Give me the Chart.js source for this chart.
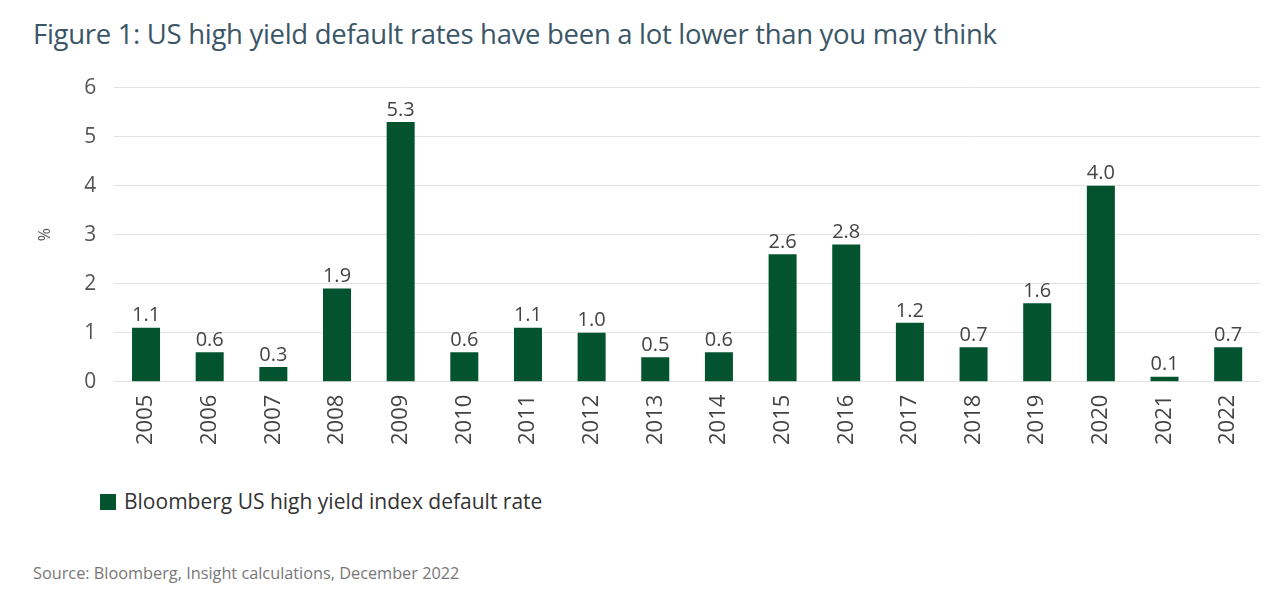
<!DOCTYPE html>
<html>
<head>
<meta charset="utf-8">
<script src="https://cdn.jsdelivr.net/npm/chart.js@4.4.0/dist/chart.umd.min.js"></script>
<style>
  body { margin: 0; background: #fff; font-family: "Open Sans", sans-serif; }
  #title { position: absolute; left: 33px; top: 15px; font-size: 27.5px; color: #3b5667; white-space: nowrap; letter-spacing: -0.3px; }
  #wrap { position: absolute; left: 0; top: 57px; width: 1282px; height: 393px; }
  #legend { position: absolute; left: 100px; top: 487px; font-size: 21px; color: #333; white-space: nowrap; }
  #legend span.box { display: inline-block; width: 16px; height: 16px; background: #03532f; vertical-align: -1px; margin-right: 8px; }
  #source { position: absolute; left: 33px; top: 562px; font-size: 16.3px; color: #777; white-space: nowrap; }
</style>
</head>
<body>
<div id="title">Figure 1: US high yield default rates have been a lot lower than you may think</div>
<div id="wrap"><canvas id="chart"></canvas></div>
<div id="legend"><span class="box"></span>Bloomberg US high yield index default rate</div>
<div id="source">Source: Bloomberg, Insight calculations, December 2022</div>
<script>
// chart data
const years = ["2005", "2006", "2007", "2008", "2009", "2010", "2011", "2012", "2013",
  "2014", "2015", "2016", "2017", "2018", "2019", "2020", "2021", "2022"];
const defaultRates = [1.1, 0.6, 0.3, 1.9, 5.3, 0.6, 1.1, 1.0, 0.5,
  0.6, 2.6, 2.8, 1.2, 0.7, 1.6, 4.0, 0.1, 0.7];
const yTicks = [0, 1, 2, 3, 4, 5, 6];

// draws the value above each bar
const valueLabels = {
  id: "valueLabels",
  afterDatasetsDraw(chart) {
    const ctx = chart.ctx;
    const meta = chart.getDatasetMeta(0);
    ctx.save();
    ctx.font = "20px 'Open Sans', sans-serif";
    ctx.fillStyle = "#444";
    ctx.textAlign = "center";
    ctx.textBaseline = "bottom";
    meta.data.forEach((bar, i) => {
      ctx.fillText(defaultRates[i].toFixed(1), bar.x, bar.y - 2);
    });
    ctx.restore();
  }
};

const ctx = document.getElementById("chart").getContext("2d");
new Chart(ctx, {
  type: "bar",
  data: {
    labels: years,
    datasets: [{
      label: "Bloomberg US high yield index default rate",
      data: defaultRates,
      backgroundColor: "#03532f",
      barPercentage: 0.88,
      categoryPercentage: 0.5
    }]
  },
  options: {
    responsive: true,
    maintainAspectRatio: false,
    animation: false,
    layout: { padding: { left: 36, right: 22, top: 2, bottom: 0 } },
    plugins: {
      legend: { display: false },
      tooltip: { enabled: false }
    },
    scales: {
      x: {
        grid: { display: false },
        border: { display: false },
        ticks: {
          color: "#444",
          font: { family: "'Open Sans', sans-serif", size: 22 },
          maxRotation: 90,
          minRotation: 90,
          padding: 5
        }
      },
      y: {
        min: 0,
        max: 6,
        afterBuildTicks(axis) {
          axis.ticks = yTicks.map(v => ({ value: v }));
        },
        grid: { color: "#e2e2e2", drawTicks: false },
        border: { display: false },
        ticks: {
          color: "#555",
          font: { family: "'Open Sans', sans-serif", size: 21 },
          padding: 18
        },
        title: {
          display: true,
          text: "%",
          color: "#555",
          font: { family: "'Open Sans', sans-serif", size: 16 },
          padding: { top: 0, bottom: 11 }
        }
      }
    }
  },
  plugins: [valueLabels]
});
</script>
</body>
</html>
